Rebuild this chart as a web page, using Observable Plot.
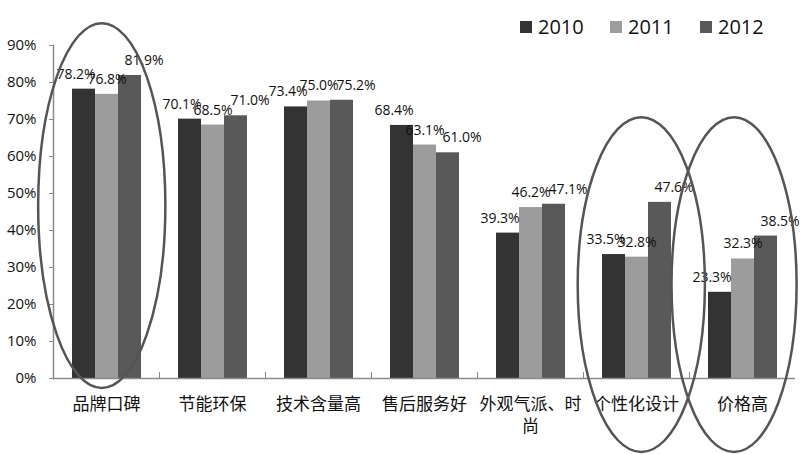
<!DOCTYPE html>
<html><head><meta charset="utf-8">
<script src="https://cdn.jsdelivr.net/npm/d3@7"></script>
<script src="https://cdn.jsdelivr.net/npm/@observablehq/plot@0.6"></script>
<style>
body{margin:0;background:#fff;}
#wrap{position:relative;width:800px;height:454px;overflow:hidden;}
#legend{position:absolute;left:520px;top:13px;display:flex;font-family:"Open Sans";font-size:20px;line-height:28px;color:#111;}
.item{display:flex;align-items:center;width:90px;}
.sw{width:12px;height:12px;margin-right:6px;}
</style></head><body>
<div id="wrap"><div id="chart"></div><div id="legend"></div></div>
<script>
const categories = ["品牌口碑","节能环保","技术含量高","售后服务好","外观气派、时尚","个性化设计","价格高"];
const years = ["2010","2011","2012"];
const v2010 = [78.2,70.1,73.4,68.4,39.3,33.5,23.3];
const v2011 = [76.8,68.5,75.0,63.1,46.2,32.8,32.3];
const v2012 = [81.9,71.0,75.2,61.0,47.1,47.6,38.5];
const yTicks = [0,10,20,30,40,50,60,70,80,90];
const colors = ["#333333","#9c9c9c","#595959"];
const labelShift = [-8, 0, 14];
// annotation ellipses, in category / percent units
const ellipseCategory = ["品牌口碑","个性化设计","价格高"];
const ellipseShift = [-0.04, 0.05, -0.075];
const ellipseHalfWidth = [0.6, 0.6, 0.59];
const ellipseTop = [95.9, 70.5, 70.5];
const ellipseBottom = [-2.7, -20, -20];

const series = [v2010, v2011, v2012];
const rows = categories.flatMap((c,i)=>years.map((y,j)=>({category:c, year:y, value:series[j][i]})));
const axisColor = "#8a8a8a";

const plot = Plot.plot({
  width:800, height:454, marginLeft:50, marginRight:3, marginTop:45, marginBottom:76,
  style:{fontFamily:"Open Sans", background:"white", overflow:"visible"},
  fx:{domain:categories, padding:0, axis:null, label:null},
  x:{domain:years, paddingInner:0, paddingOuter:0.75, axis:null, label:null},
  y:{domain:[0,90], axis:null, label:null},
  color:{domain:years, range:colors},
  marks:[
    Plot.barY(rows,{fx:"category", x:"year", y:"value", fill:"year"}),
    Plot.ruleY([0],{stroke:axisColor, strokeWidth:1.5}),
    Plot.frame({anchor:"left", facetAnchor:"left", stroke:axisColor, strokeWidth:1.5}),
    Plot.frame({anchor:"left", stroke:axisColor, insetTop:327}),
    Plot.axisY({ticks:yTicks, tickFormat:d=>d+"%", tickSize:4, tickPadding:13, stroke:axisColor, fill:"#111", fontSize:15}),
    Plot.axisFx({anchor:"bottom", tickSize:0, tickPadding:16, fontSize:17, fontFamily:"Noto Sans CJK SC", fill:"#111", lineAnchor:"top", lineHeight:1.3,
      tickFormat:d=>d.length>6 ? d.slice(0,6)+"\n"+d.slice(6) : d}),
    ...years.map((yr,j)=>Plot.text(rows.filter(d=>d.year===yr),{fx:"category", x:"year", y:"value",
      text:d=>d.value.toFixed(1)+"%", dx:labelShift[j], dy:-15, fontSize:14, fill:"#111"}))
  ]
});
document.getElementById("chart").appendChild(plot);

const fx = plot.scale("fx"), ys = plot.scale("y");
const svg = d3.select(plot);
ellipseCategory.forEach((c,i)=>{
  const bw = fx.bandwidth;
  const cx = fx.apply(c) + bw*(0.5+ellipseShift[i]);
  const yt = ys.apply(ellipseTop[i]), yb = ys.apply(ellipseBottom[i]);
  svg.append("ellipse")
    .attr("cx", cx).attr("cy", (yt+yb)/2)
    .attr("rx", bw*ellipseHalfWidth[i]).attr("ry", (yb-yt)/2)
    .attr("fill","none").attr("stroke","#555").attr("stroke-width",2.5);
});

const legend = d3.select("#legend");
years.forEach((y,i)=>{
  const it = legend.append("div").attr("class","item");
  it.append("div").attr("class","sw").style("background",colors[i]);
  it.append("span").text(y);
});
</script>
</body></html>
